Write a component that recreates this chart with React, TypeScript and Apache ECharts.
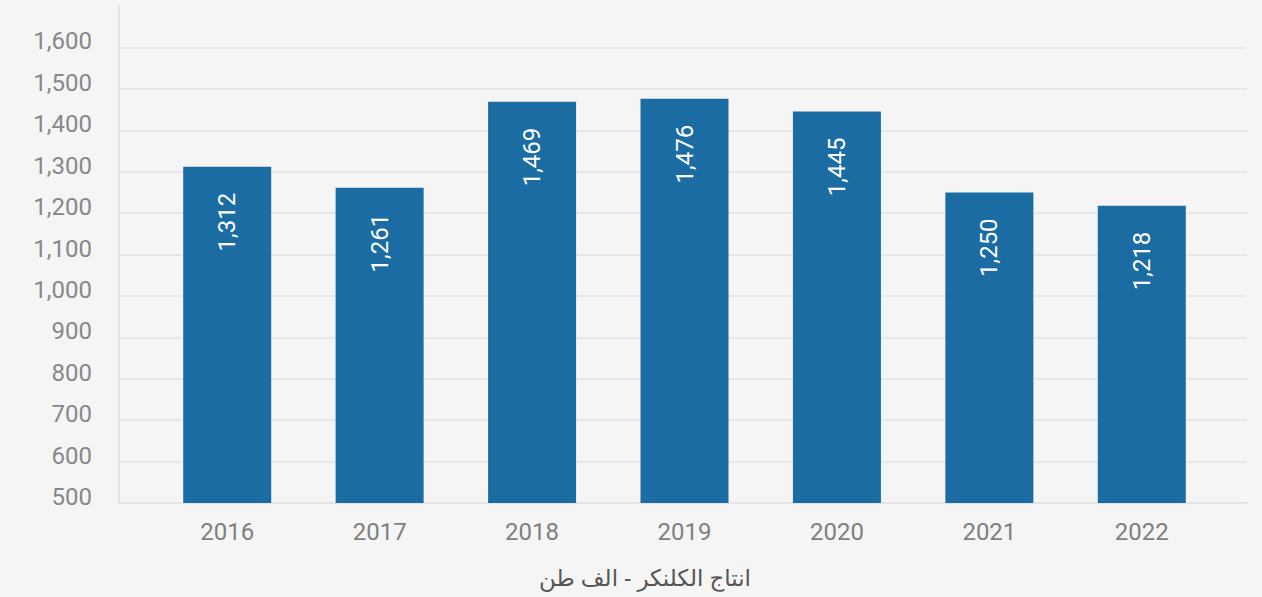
import React, { useEffect, useRef } from "react";
import * as echarts from "echarts";

const categories = ["2016", "2017", "2018", "2019", "2020", "2021", "2022"];
const values = [1312, 1261, 1469, 1476, 1445, 1250, 1218];
const yMin = 500;
const yMax = 1700;
const yInterval = 100;
const title = "انتاج الكلنكر - الف طن";

const fmt = (v: number) => v.toLocaleString("en-US");

export default function App() {
  const ref = useRef<HTMLDivElement>(null);
  useEffect(() => {
    document.body.style.margin = "0";
    document.body.style.background = "#f5f5f5";
    const chart = echarts.init(ref.current!, null, { renderer: "svg" });
    const font = "Roboto, 'Noto Sans', sans-serif";
    chart.setOption({
      animation: false,
      backgroundColor: "#f5f5f5",
      textStyle: { fontFamily: font },
      grid: [
        { left: 119, right: 15, top: 6, bottom: 94 },
        { left: 151, right: 44, top: 6, bottom: 94 },
      ],
      xAxis: [
        {
          type: "category",
          gridIndex: 0,
          data: categories,
          axisLine: { show: true, lineStyle: { color: "#e4e4e4", width: 2 } },
          axisTick: { show: false },
          axisLabel: { show: false },
          splitLine: { show: false },
        },
        {
          type: "category",
          gridIndex: 1,
          data: categories,
          axisLine: { show: false },
          axisTick: { show: false },
          axisLabel: { color: "#7f7f7f", fontSize: 24, margin: 17, fontFamily: font },
          splitLine: { show: false },
        },
      ],
      yAxis: [
        {
          type: "value",
          gridIndex: 0,
          min: yMin,
          max: yMax,
          interval: yInterval,
          axisLine: { show: true, lineStyle: { color: "#e4e4e4", width: 2 } },
          axisTick: { show: false },
          axisLabel: {
            color: "#888888",
            fontSize: 24,
            margin: 27,
            verticalAlign: "bottom",
            lineHeight: 12,
            showMaxLabel: false,
            formatter: (v: number) => fmt(v),
            fontFamily: font,
          },
          splitLine: {
            show: true,
            showMaxLine: false,
            lineStyle: { color: "#e8e8e8", width: 2 },
          },
        },
        {
          type: "value",
          gridIndex: 1,
          min: yMin,
          max: yMax,
          interval: yInterval,
          show: false,
          splitLine: { show: false },
        },
      ],
      series: [
        {
          type: "bar",
          xAxisIndex: 1,
          yAxisIndex: 1,
          data: values,
          barWidth: 88,
          itemStyle: { color: "#1c6ca4" },
          label: {
            show: true,
            position: "insideTop",
            rotate: 90,
            align: "right",
            verticalAlign: "middle",
            distance: 26,
            color: "#ffffff",
            fontSize: 24,
            fontFamily: font,
            formatter: (p: any) => fmt(p.value),
          },
        },
      ],
      graphic: [
        {
          type: "text",
          x: 645,
          y: 577,
          style: {
            text: title,
            fill: "#555555",
            fontSize: 23,
            textAlign: "center",
            textVerticalAlign: "middle",
            fontFamily: "'Noto Sans', 'DejaVu Sans', sans-serif",
          },
        },
      ],
    });
    return () => chart.dispose();
  }, []);
  return <div ref={ref} style={{ width: 1262, height: 597 }} />;
}
